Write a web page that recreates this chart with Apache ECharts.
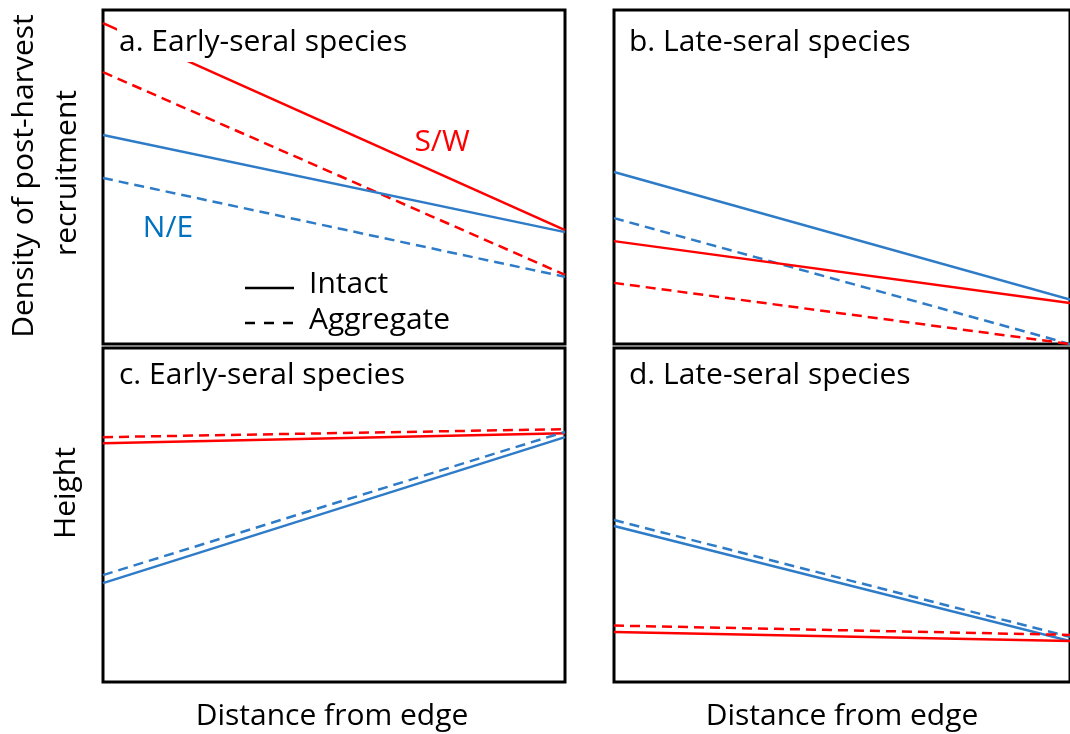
<!DOCTYPE html>
<html>
<head>
<meta charset="utf-8">
<script src="https://cdn.jsdelivr.net/npm/echarts@6/dist/echarts.min.js"></script>
<style>
html,body{margin:0;padding:0;background:#fff;}
#chart{width:1070px;height:734px;}
</style>
</head>
<body>
<div id="chart"></div>
<script>
// Distance from edge (start, end) – relative scale
const distance = [0, 1];

// Panel a: Early-seral species, density of post-harvest recruitment
const aSWIntact = [96.1, 34.1];
const aSWAggregate = [81.4, 20.7];
const aNEIntact = [62.6, 33.5];
const aNEAggregate = [49.7, 20.1];

// Panel b: Late-seral species, density of post-harvest recruitment
const bNEIntact = [51.5, 13.3];
const bNEAggregate = [37.7, 0];
const bSWIntact = [30.8, 12.3];
const bSWAggregate = [18.3, 0];

// Panel c: Early-seral species, height
const cSWAggregate = [73.3, 75.7];
const cSWIntact = [71.5, 74.5];
const cNEAggregate = [32.0, 74.9];
const cNEIntact = [29.6, 73.3];

// Panel d: Late-seral species, height
const dNEAggregate = [48.5, 13.5];
const dNEIntact = [46.7, 12.3];
const dSWAggregate = [16.9, 14.1];
const dSWIntact = [15.0, 12.3];

const panelTitles = ['a. Early-seral species', 'b. Late-seral species', 'c. Early-seral species', 'd. Late-seral species'];
const xAxisTitle = 'Distance from edge';
const yAxisTitles = ['Density of post-harvest', 'recruitment', 'Height'];
const groupLabels = ['S/W', 'N/E'];
const legendLabels = ['Intact', 'Aggregate'];

const RED = '#FF0000';
const BLUE = '#2E7BC8';
const FONT = '"Open Sans", "Noto Sans", sans-serif';
const FS = 30;
const DASH = [10, 6];

const grids = [
  {left: 103, top: 10, width: 462, height: 334},
  {left: 614, top: 10, width: 462, height: 334},
  {left: 103, top: 348, width: 462, height: 334},
  {left: 614, top: 348, width: 462, height: 334}
];

function pts(vals){ return vals.map((v,i)=>[distance[i], v]); }
function line(vals, color, dashed, idx){
  return {
    type: 'line', xAxisIndex: idx, yAxisIndex: idx, data: pts(vals),
    symbol: 'none', silent: true, animation: false,
    lineStyle: {color: color, width: 2.5, type: dashed ? DASH : 'solid'},
    clip: true
  };
}

const series = [
  line(aSWIntact, RED, false, 0), line(aSWAggregate, RED, true, 0),
  line(aNEIntact, BLUE, false, 0), line(aNEAggregate, BLUE, true, 0),
  line(bNEIntact, BLUE, false, 1), line(bNEAggregate, BLUE, true, 1),
  line(bSWIntact, RED, false, 1), line(bSWAggregate, RED, true, 1),
  line(cSWAggregate, RED, true, 2), line(cSWIntact, RED, false, 2),
  line(cNEAggregate, BLUE, true, 2), line(cNEIntact, BLUE, false, 2),
  line(dNEAggregate, BLUE, true, 3), line(dNEIntact, BLUE, false, 3),
  line(dSWAggregate, RED, true, 3), line(dSWIntact, RED, false, 3)
];

const hidden = {show: false};
const xAxes = grids.map((g,i)=>({type:'value', gridIndex:i, min:0, max:1, axisLine:hidden, axisTick:hidden, axisLabel:hidden, splitLine:hidden}));
const yAxes = grids.map((g,i)=>({type:'value', gridIndex:i, min:0, max:100, axisLine:hidden, axisTick:hidden, axisLabel:hidden, splitLine:hidden}));

function txt(text, x, y, color, align){
  return {
    type: 'text', z: 100, silent: true,
    style: {text: text, x: x, y: y, font: FS + 'px ' + FONT, fill: color || '#000',
            align: align || 'left', verticalAlign: 'middle'}
  };
}
function vtxt(text, x, y){
  return {type:'text', z:100, silent:true, x:x, y:y, rotation: Math.PI/2,
    style:{text:text, x:0, y:0, font: FS + 'px ' + FONT, fill:'#000', align:'center', verticalAlign:'middle'}};
}

const graphic = [
  // white box behind panel a title (hides red line as in original)
  {type:'rect', z: 99, silent:true, shape:{x:117, y:27, width:300, height:35}, style:{fill:'#fff'}},
  txt(panelTitles[0], 119, 42),
  txt(panelTitles[1], 629, 42),
  txt(panelTitles[2], 119, 375),
  txt(panelTitles[3], 629, 375),
  txt(groupLabels[0], 442, 142, RED, 'center'),
  txt(groupLabels[1], 168, 228, '#0070C0', 'center'),
  {type:'line', z:100, silent:true, shape:{x1:245, y1:288, x2:294, y2:288}, style:{stroke:'#000', lineWidth:2.5}},
  {type:'line', z:100, silent:true, shape:{x1:245, y1:323, x2:294, y2:323}, style:{stroke:'#000', lineWidth:2.5, lineDash:[10,9]}},
  txt(legendLabels[0], 309, 284),
  txt(legendLabels[1], 309, 320),
  txt(xAxisTitle, 332, 716, '#000', 'center'),
  txt(xAxisTitle, 842, 716, '#000', 'center'),
  vtxt(yAxisTitles[0], 24, 176),
  vtxt(yAxisTitles[1], 67, 173),
  vtxt(yAxisTitles[2], 66, 493)
];

const chart = echarts.init(document.getElementById('chart'), null, {renderer:'canvas'});
chart.setOption({
  animation: false,
  backgroundColor: '#fff',
  grid: grids.map(g=>Object.assign({show:true, borderColor:'#000', borderWidth:3, backgroundColor:'#fff', containLabel:false}, g)),
  xAxis: xAxes,
  yAxis: yAxes,
  series: series,
  graphic: graphic
});
</script>
</body>
</html>
